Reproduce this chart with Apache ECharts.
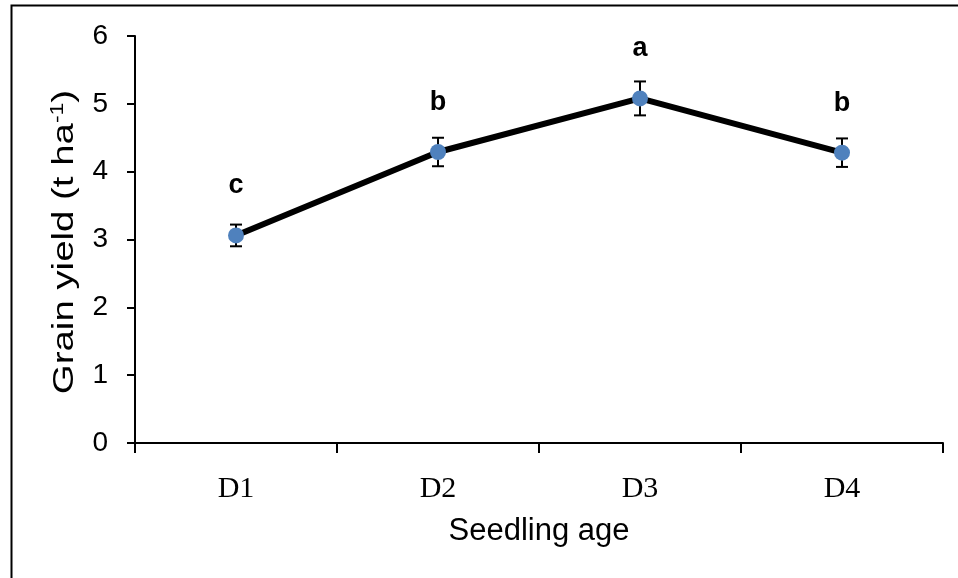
<!DOCTYPE html>
<html>
<head>
<meta charset="utf-8">
<script src="https://cdn.jsdelivr.net/npm/echarts@6/dist/echarts.min.js"></script>
<style>html,body{margin:0;padding:0;background:#fff;}#c{width:958px;height:578px;}</style>
</head>
<body>
<div id="c"></div>
<script>
const categories = ['D1', 'D2', 'D3', 'D4'];
const yieldValues = [3.06, 4.29, 5.08, 4.28];
const errorValues = [0.16, 0.21, 0.25, 0.21];
const letters = ['c', 'b', 'a', 'b'];
const yTicks = [0, 1, 2, 3, 4, 5, 6];
const xTitle = 'Seedling age';
const yTitle = 'Grain yield (t ha';

const chart = echarts.init(document.getElementById('c'));
const errData = categories.map((c, i) => [i, yieldValues[i] - errorValues[i], yieldValues[i] + errorValues[i]]);

chart.setOption({
  animation: false,
  backgroundColor: '#fff',
  grid: { left: 135, right: 15, top: 36, bottom: 135 },
  graphic: [
    { type: 'polyline', z: 100, shape: { points: [[11.5, 578], [11.5, 5.5], [958, 5.5]] }, style: { stroke: '#000', lineWidth: 2, fill: null } },
    {
      type: 'text', z: 100, x: 65, y: 242, rotation: Math.PI / 2, scaleX: 1.28,
      style: {
        text: '{n|' + yTitle + '}{s|-1}{n|)}',
        align: 'center', verticalAlign: 'middle',
        rich: {
          n: { fill: '#000', fontFamily: 'Liberation Sans', fontSize: 30 },
          s: { fill: '#000', fontFamily: 'Liberation Sans', fontSize: 18, verticalAlign: 'top', padding: [0, 0, 14, 0] }
        }
      }
    }
  ],
  xAxis: {
    type: 'category',
    data: categories,
    boundaryGap: true,
    axisLine: { lineStyle: { color: '#000', width: 2 } },
    axisTick: { show: true, length: 10, lineStyle: { color: '#000', width: 2 } },
    axisLabel: { color: '#000', fontFamily: 'Liberation Serif', fontSize: 30, margin: 31 },
    name: xTitle,
    nameLocation: 'middle',
    nameGap: 73,
    nameTextStyle: { color: '#000', fontFamily: 'Liberation Sans', fontSize: 31 }
  },
  yAxis: {
    type: 'value',
    min: 0, max: 6, interval: 1,
    splitLine: { show: false },
    axisLine: { show: true, lineStyle: { color: '#000', width: 2 } },
    axisTick: { show: true, length: 8, lineStyle: { color: '#000', width: 2 } },
    axisLabel: { color: '#000', fontFamily: 'Liberation Sans', fontSize: 28, margin: 27,
      formatter: v => yTicks.includes(v) ? String(v) : '' }
  },
  series: [
    {
      type: 'custom',
      z: 1,
      data: errData,
      renderItem: function (params, api) {
        const x = api.value(0);
        const lo = api.coord([x, api.value(1)]);
        const hi = api.coord([x, api.value(2)]);
        const hw = 6;
        const st = { stroke: '#000', lineWidth: 2 };
        return {
          type: 'group',
          children: [
            { type: 'line', shape: { x1: lo[0], y1: lo[1], x2: hi[0], y2: hi[1] }, style: st },
            { type: 'line', shape: { x1: lo[0] - hw, y1: lo[1], x2: lo[0] + hw, y2: lo[1] }, style: st },
            { type: 'line', shape: { x1: hi[0] - hw, y1: hi[1], x2: hi[0] + hw, y2: hi[1] }, style: st }
          ]
        };
      }
    },
    {
      type: 'line',
      z: 3,
      data: yieldValues.map((v, i) => ({ value: v, label: { formatter: letters[i] } })),
      lineStyle: { color: '#000', width: 6 },
      symbol: 'circle',
      symbolSize: 16,
      itemStyle: { color: '#4F81BD' },
      label: { show: true, position: 'top', distance: 28, color: '#000', fontFamily: 'Liberation Sans', fontWeight: 'bold', fontSize: 27 }
    }
  ]
});
</script>
</body>
</html>
